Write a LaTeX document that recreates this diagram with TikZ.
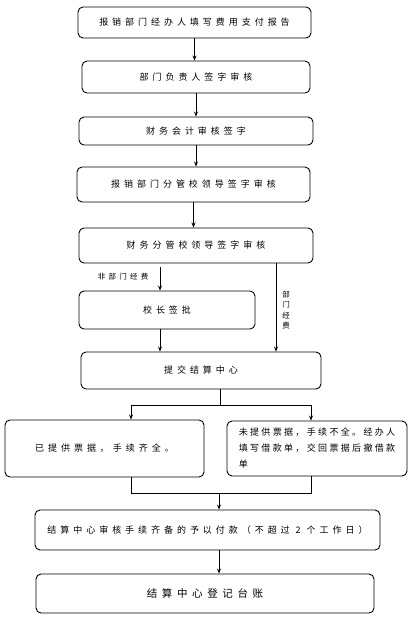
\documentclass[tikz,border=0pt]{standalone}
\usepackage{fontspec}
\setmainfont{Noto Sans CJK SC}[LetterSpace=44]
\newfontfamily\tightcjk{Noto Sans CJK SC}[LetterSpace=26]
\usetikzlibrary{arrows.meta}
\tikzset{
  stepbox/.style={draw, line width=0.9pt, rounded corners=5pt, inner sep=0pt},
  flow/.style={line width=0.8pt, -{Stealth[length=5pt,width=4pt]}},
  link/.style={line width=0.8pt},
  note/.style={font=\fontsize{7.5}{10.5}\selectfont}
}
\begin{document}
\begin{tikzpicture}[x=1pt,y=-1pt,font=\fontsize{9}{16}\selectfont]
\useasboundingbox (0,0) rectangle (418,621);
% main chain
\node[stepbox, minimum width=233pt, minimum height=31pt] (report) at (194.5,22.5) {报销部门经办人填写费用支付报告};
\node[stepbox, minimum width=228pt, minimum height=32pt] (head) at (196,77) {部门负责人签字审核};
\node[stepbox, minimum width=234pt, minimum height=28pt] (acct) at (196,131) {财务会计审核签字};
\node[stepbox, minimum width=233pt, minimum height=35pt] (deptlead) at (193.5,184.5) {报销部门分管校领导签字审核};
\node[stepbox, minimum width=234pt, minimum height=35pt] (finlead) at (196,245.5) {财务分管校领导签字审核};
\node[stepbox, minimum width=176pt, minimum height=38pt] (president) at (167,310) {校长签批};
\node[stepbox, minimum width=240pt, minimum height=37pt] (submit) at (201,370.5) {提交结算中心};
\node[stepbox, minimum width=199pt, minimum height=57pt] (complete) at (104.5,448.5) {已提供票据，手续齐全。};
\node[stepbox, minimum width=180pt, minimum height=55pt, align=left, font=\tightcjk\fontsize{9}{16}\selectfont] (incomplete) at (317,448.5) {未提供票据，手续不全。经办人\\填写借款单，交回票据后撤借款\\单};
\node[stepbox, minimum width=345pt, minimum height=40pt] (pay) at (207.5,530) {结算中心审核手续齐备的予以付款（不超过 2 个工作日）};
\node[stepbox, minimum width=338pt, minimum height=39pt, font=\fontsize{10.5}{12}\selectfont] (ledger) at (205,593.5) {结算中心登记台账};
% labels
\node[note, anchor=east] (nonlbl) at (152,277) {非部门经费};
\node[note, align=center] (deptlbl) at (286,310) {部\\门\\经\\费};
% helper points
\coordinate (nonsrc) at (160,267);
\coordinate (deptcol) at (276,0);
\coordinate (lcol) at (131,0);
\coordinate (rcol) at (311,0);
\coordinate (split) at (220,405);
\coordinate (merge) at (219,493);
% connectors
\draw[flow] (report.south) -- (report.south |- head.north);
\draw[flow] (head.south) -- (head.south |- acct.north);
\draw[flow] (acct.south) -- (acct.south |- deptlead.north);
\draw[flow] (deptlead.south) -- (deptlead.south |- finlead.north);
\draw[flow] (nonsrc) -- (nonsrc |- president.north);
\draw[flow] (finlead.south -| deptcol) -- (submit.north -| deptcol);
\draw[flow] (president.south -| nonsrc) -- (submit.north -| nonsrc);
\draw[link] (submit.south -| split) -- (split);
\draw[flow] (split) -| (lcol |- complete.north);
\draw[flow] (split) -| (rcol |- incomplete.north);
\draw[link] (lcol |- complete.south) |- (rcol |- merge) -- (rcol |- incomplete.south);
\draw[flow] (merge) -- (merge |- pay.north);
\draw[flow] (pay.south -| merge) -- (ledger.north -| merge);
\end{tikzpicture}
\end{document}
